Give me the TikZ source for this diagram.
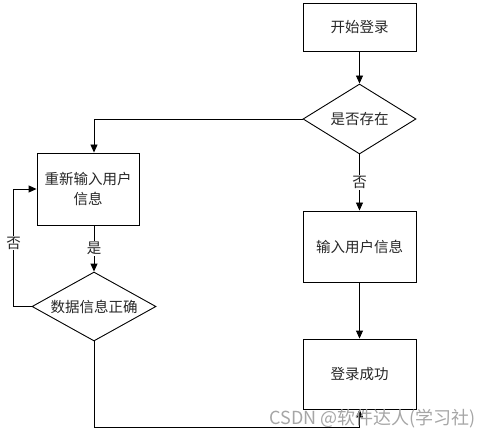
\documentclass[tikz,border=0pt]{standalone}
\usepackage{fontspec}
\newfontfamily\cjk{Noto Sans CJK SC}
\usetikzlibrary{shapes.geometric,arrows.meta,calc}
\tikzset{
  box/.style={draw, line width=0.9pt, rectangle, inner sep=0pt, align=center, text=black!85},
  dia/.style={draw, line width=0.9pt, diamond, inner sep=0pt, text=black!85},
  arr/.style={line width=0.9pt, -{Triangle[length=8pt,width=7pt]}},
  lab/.style={fill=white, inner sep=1pt, text=black!85}
}
\begin{document}
\begin{tikzpicture}[x=1pt,y=-1pt,font=\cjk\fontsize{14.5}{20}\selectfont]
\useasboundingbox (0,0) rectangle (489,438);
\node[box, minimum width=113pt, minimum height=48pt] (start) at (359.5,27) {开始登录};
\node[dia, shape aspect=1.6, minimum width=113pt, minimum height=70pt] (exist) at (359.5,119) {是否存在};
\node[box, minimum width=113pt, minimum height=71pt] (input) at (359.5,246.5) {输入用户信息};
\node[box, minimum width=113pt, minimum height=70pt] (success) at (359.5,374) {登录成功};
\node[box, minimum width=102pt, minimum height=72pt] (reenter) at (88,189) {重新输入用户\\信息};
\node[dia, shape aspect=1.8, minimum width=124pt, minimum height=69pt] (check) at (94,306.5) {数据信息正确};
\coordinate (bl) at (94,427);

\draw[arr] (start) -- (exist);
\draw[arr] (exist) -- node[lab]{否} (input);
\draw[arr] (input) -- (success);
\draw[arr] (exist.west) -| (check.north |- reenter.north);
\draw[arr] (check.north |- reenter.south) -- node[lab]{是} (check.north);
\draw[arr] (check.west) -- ++(-18,0) |- node[lab, pos=0.27]{否} (reenter.west);
\draw[arr] (check.south) -- (bl) -| (success.south);

\node[anchor=east, inner sep=0pt, text=black!35, font=\cjk\fontsize{18}{20}\selectfont] (wm) at (476,419) {CSDN @软件达人(学习社)};
\end{tikzpicture}
\end{document}
